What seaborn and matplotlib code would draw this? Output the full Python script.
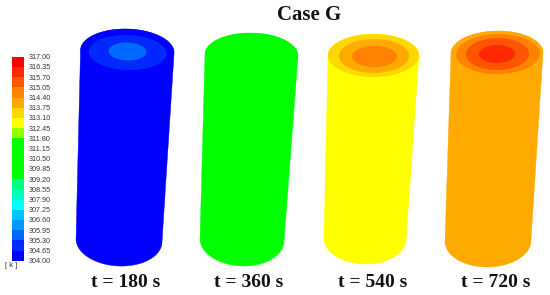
import numpy as np
import seaborn as sns
import matplotlib
matplotlib.use("Agg")
import matplotlib.pyplot as plt
from matplotlib.colors import ListedColormap, BoundaryNorm
from matplotlib.patches import Ellipse, Polygon

# ---- data ----
title = "Case G"
times = ["t = 180 s", "t = 360 s", "t = 540 s", "t = 720 s"]
scale_labels = ["304.00", "304.65", "305.30", "305.95", "306.60", "307.25", "307.90",
                "308.55", "309.20", "309.85", "310.50", "311.15", "311.80", "312.45",
                "313.10", "313.75", "314.40", "315.05", "315.70", "316.35", "317.00"]
unit = "[ k ]"
side_temp = [304.3, 310.8, 312.8, 314.0]
cap_outer_temp = [304.3, 310.8, 313.4, 314.0]
cap_rings_180 = [304.9, 305.6]
cap_rings_360 = []
cap_rings_540 = [314.0, 314.7]
cap_rings_720 = [314.7, 315.4, 316.0]

# ---- styles / geometry (pixel space) ----
band_colors = [(0, 0, 255), (0, 40, 255), (0, 105, 255), (0, 150, 255), (0, 195, 255),
               (0, 255, 255), (0, 255, 190), (0, 255, 130), (0, 255, 0), (0, 255, 0),
               (0, 255, 0), (0, 255, 0), (150, 255, 0), (255, 255, 0), (255, 215, 0),
               (255, 170, 0), (255, 130, 0), (255, 85, 0), (255, 40, 0), (255, 0, 0)]
edges = np.array([float(s) for s in scale_labels])
cmap = ListedColormap([tuple(c / 255 for c in rgb) for rgb in band_colors])
norm = BoundaryNorm(edges, cmap.N)

W, H = 550, 295
sns.set_theme(style="white")
plt.rcParams["font.family"] = ["Liberation Sans", "DejaVu Sans"]
fig = plt.figure(figsize=(W / 100, H / 100), dpi=100, facecolor="white")
ax = fig.add_axes([0, 0, 1, 1])
ax.set_xlim(0, W)
ax.set_ylim(H, 0)
ax.axis("off")

# colour bar as a one-column heatmap, top band first
mids = ((edges[:-1] + edges[1:]) / 2)[::-1].reshape(-1, 1)
x0, x1, y0, y1 = 12, 24, 56.7, 260.7
cax = fig.add_axes([x0 / W, 1 - y1 / H, (x1 - x0) / W, (y1 - y0) / H])
sns.heatmap(mids, ax=cax, cmap=cmap, norm=norm, cbar=False, xticklabels=False,
            yticklabels=False, linewidths=0)
cax.set_yticks(np.arange(len(scale_labels)))
cax.set_yticklabels(scale_labels[::-1], fontsize=5.2, color="#333333", rotation=0)
cax.yaxis.tick_right()
cax.tick_params(axis="y", length=0, pad=3.5)
cax.set_xticks([])
ax.text(11.5, 265.5, unit, fontsize=5.4, color="#333333", ha="center", va="center",
        transform=ax.transData)

def ellipse_pts(cx, cy, a, b, rot, t):
    r = np.deg2rad(rot)
    x, y = a * np.cos(t), b * np.sin(t)
    return np.c_[cx + x * np.cos(r) - y * np.sin(r), cy + x * np.sin(r) + y * np.cos(r)]

# top centre, semi axes, tilt; bottom centre, semi axes, tilt
cylinders = [
    ((127.3, 51.5), 46.8, 22.5, 1.8, (119.0, 240.5), 43.0, 25.5, 3.0),
    ((251.5, 55.0), 46.5, 22.0, 1.0, (242.0, 240.0), 42.0, 26.0, 2.5),
    ((373.5, 55.5), 45.5, 21.5, 0.0, (365.0, 239.0), 41.0, 25.0, 1.0),
    ((497.0, 53.0), 46.0, 22.0, -0.8, (488.0, 241.0), 43.0, 26.0, -1.0),
]
# ring geometry: centre, semi axes (outermost first)
rings = [
    [((127.5, 52.5), 39, 17.5), ((127.5, 51.5), 19, 9)],
    [],
    [((374, 56), 35, 17), ((374.5, 56.5), 22.5, 10.5)],
    [((498, 54), 42, 20), ((497.5, 54), 31.5, 16), ((497, 54), 18, 9)],
]
ring_temps = [cap_rings_180, cap_rings_360, cap_rings_540, cap_rings_720]

for i, (tc, ta, tb, tr, bc, ba, bb, br) in enumerate(cylinders):
    top = ellipse_pts(*tc, ta, tb, tr, np.linspace(np.pi, 2 * np.pi, 80))
    bot = ellipse_pts(*bc, ba, bb, br, np.linspace(0, np.pi, 80))
    side_color = cmap(norm(side_temp[i]))
    ax.add_patch(Polygon(np.vstack([top, bot]), closed=True, fc=side_color, ec=side_color, lw=0.3))
    ax.add_patch(Ellipse(tc, 2 * ta, 2 * tb, angle=tr, fc=cmap(norm(cap_outer_temp[i])),
                         ec="none"))
    for (c, a, b), temp in zip(rings[i], ring_temps[i]):
        ax.add_patch(Ellipse(c, 2 * a, 2 * b, angle=tr, fc=cmap(norm(temp)), ec="none"))

serif = ["Liberation Serif", "DejaVu Serif"]
ax.text(309.5, 14.5, title, family=serif, fontsize=15, fontweight="bold", color="#111111",
        ha="center", va="center")
for t, x in zip(times, [125.5, 249, 372.5, 496]):
    ax.text(x, 282.5, t, family=serif, fontsize=14, fontweight="bold", color="#111111",
            ha="center", va="center")

fig.savefig("out.png", dpi=100)
